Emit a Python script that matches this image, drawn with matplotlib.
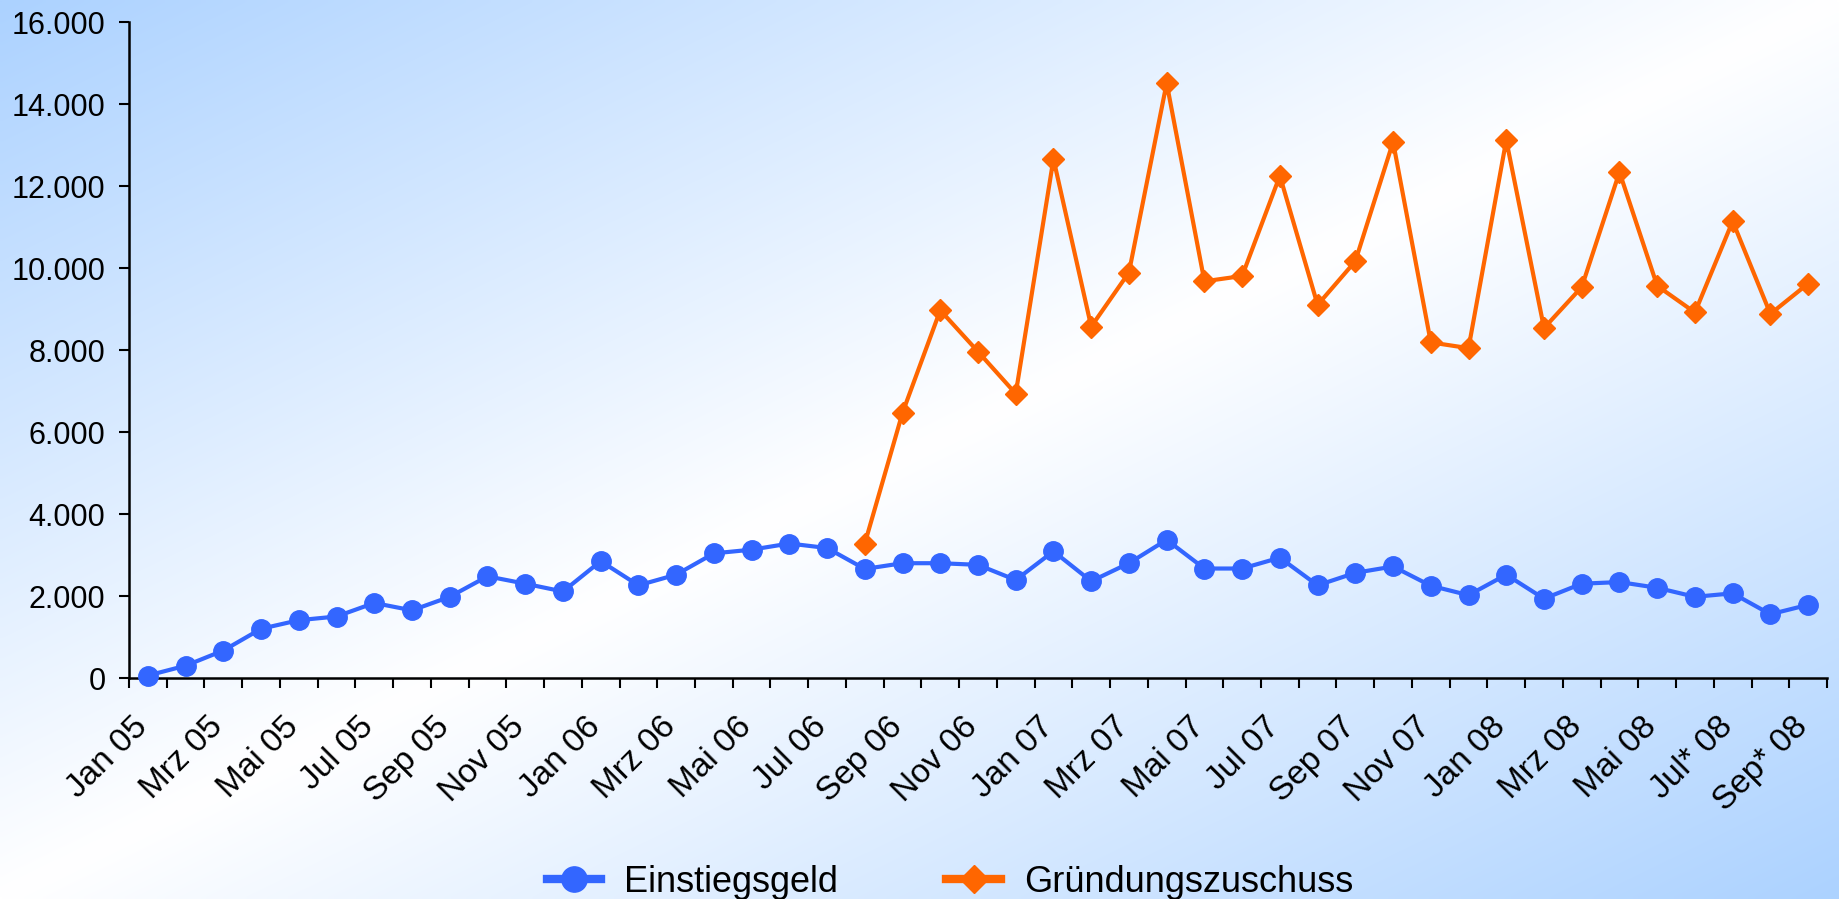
import numpy as np
import matplotlib
matplotlib.use("Agg")
import matplotlib.pyplot as plt
from matplotlib.ticker import FuncFormatter, FixedLocator
from matplotlib.transforms import ScaledTranslation

months = ["Jan 05", "Feb 05", "Mrz 05", "Apr 05", "Mai 05", "Jun 05", "Jul 05", "Aug 05", "Sep 05", "Okt 05", "Nov 05", "Dez 05",
          "Jan 06", "Feb 06", "Mrz 06", "Apr 06", "Mai 06", "Jun 06", "Jul 06", "Aug 06", "Sep 06", "Okt 06", "Nov 06", "Dez 06",
          "Jan 07", "Feb 07", "Mrz 07", "Apr 07", "Mai 07", "Jun 07", "Jul 07", "Aug 07", "Sep 07", "Okt 07", "Nov 07", "Dez 07",
          "Jan 08", "Feb 08", "Mrz 08", "Apr 08", "Mai 08", "Jun 08", "Jul* 08", "Aug* 08", "Sep* 08"]

einstiegsgeld = [60, 300, 670, 1200, 1410, 1500, 1830, 1650, 1980, 2480, 2300, 2110,
                 2850, 2260, 2520, 3040, 3130, 3280, 3170, 2660, 2800, 2800, 2760, 2390,
                 3090, 2360, 2800, 3370, 2670, 2670, 2935, 2260, 2565, 2720, 2250, 2020,
                 2520, 1935, 2300, 2340, 2200, 1980, 2065, 1555, 1785]

gruendungszuschuss = [None] * 19 + [3280, 6470, 8970, 7960, 6935,
                      12660, 8570, 9890, 14510, 9675, 9805, 12250, 9100, 10165, 13075, 8185, 8045,
                      13120, 8535, 9535, 12340, 9565, 8915, 11140, 8880, 9620]

yticks = [0, 2000, 4000, 6000, 8000, 10000, 12000, 14000, 16000]

W, H = 1839, 899
plt.rcParams['font.family'] = ['Liberation Sans', 'DejaVu Sans']
fig = plt.figure(figsize=(W / 100, H / 100), dpi=100)

# background gradient
bg = fig.add_axes([0, 0, 1, 1], zorder=-10)
xx, yy = np.meshgrid(np.linspace(0, 1, 400), np.linspace(0, 1, 200))
d = np.abs(xx + yy - 1.0)
blue = np.array([172, 210, 255]) / 255.0
white = np.array([1.0, 1.0, 1.0])
img = white[None, None, :] * (1 - d[..., None]) + blue[None, None, :] * d[..., None]
bg.imshow(img, aspect='auto', extent=[0, 1, 1, 0], interpolation='bilinear')
bg.set_axis_off()

ax = fig.add_axes([129 / W, 1 - 678 / H, (1827 - 129) / W, (678 - 22) / H])
ax.patch.set_alpha(0)
x = np.arange(len(months))
g = np.array([np.nan if v is None else v for v in gruendungszuschuss], dtype=float)

ax.plot(x, einstiegsgeld, color='#3366ff', lw=3, marker='o', ms=14, label='Einstiegsgeld', zorder=3, clip_on=False)
ax.plot(x, g, color='#ff6600', lw=3, marker='D', ms=11, label='Gründungszuschuss', zorder=4, clip_on=False)

ax.set_xlim(-0.5, len(months) - 0.5)
ax.set_ylim(0, 16000)
ax.set_yticks(yticks)
ax.yaxis.set_major_formatter(FuncFormatter(lambda v, p: f"{int(v):,}".replace(",", ".")))
ax.tick_params(axis='y', labelsize=22, length=7, width=1.5, direction='out', pad=10)

ax.set_xticks(x[::2])
ax.set_xticklabels(months[::2], rotation=45, ha='right', va='top', rotation_mode='anchor', fontsize=24)
ax.tick_params(axis='x', which='major', length=0, pad=24)
ax.xaxis.set_minor_locator(FixedLocator(np.arange(-0.5, len(months), 1.0)))
ax.tick_params(axis='x', which='minor', length=7, width=1.5, direction='out')
off = ScaledTranslation(-16 / 100, 0, fig.dpi_scale_trans)
for lbl in ax.get_xticklabels():
    lbl.set_transform(lbl.get_transform() + off)

for s in ['top', 'right']:
    ax.spines[s].set_visible(False)
for s in ['left', 'bottom']:
    ax.spines[s].set_linewidth(1.8)

leg = fig.legend(loc='center', bbox_to_anchor=(950 / W, 1 - 882 / H), ncol=2, frameon=False,
                 fontsize=26, handlelength=1.5, columnspacing=3.0, handletextpad=0.65, markerscale=1.3)
for h in leg.legend_handles:
    h.set_linewidth(6)

fig.savefig('out.png', dpi=100)
